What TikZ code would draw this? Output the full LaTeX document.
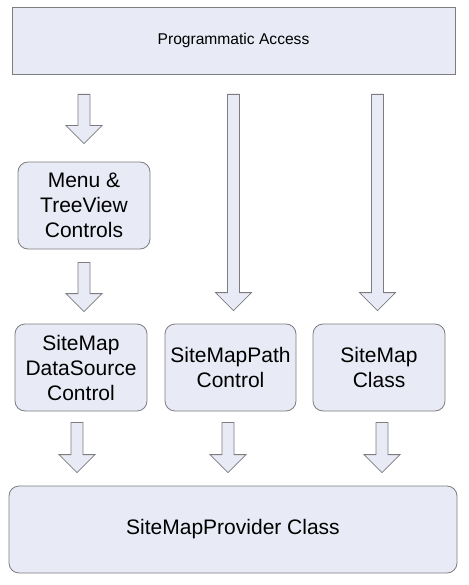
\documentclass[tikz,border=0pt]{standalone}
\usepackage{fontspec}
\setmainfont{Liberation Sans}
\usetikzlibrary{calc, positioning}
\definecolor{boxfill}{RGB}{232, 235, 245}
\definecolor{boxline}{RGB}{125, 125, 128}

% block arrow: start point, tip point, gap below start, gap above tip
\newcommand{\blockarrow}[4]{%
  \draw[arrowbox] let \p1=(#1), \p2=(#2) in
    (\x1-6pt,\y1-#3pt) -- (\x1+6pt,\y1-#3pt) -- (\x1+6pt,\y2+#4pt+18pt)
    -- (\x1+18pt,\y2+#4pt+18pt) -- (\x1,\y2+#4pt) -- (\x1-18pt,\y2+#4pt+18pt)
    -- (\x1-6pt,\y2+#4pt+18pt) -- cycle;}

\tikzset{
  layer/.style={draw=boxline, fill=boxfill, line width=0.8pt, align=center,
    inner sep=0pt, font=\fontsize{21}{25}\selectfont},
  part/.style={layer, rounded corners=10pt, minimum width=132pt, minimum height=87pt},
  arrowbox/.style={draw=boxline, fill=boxfill, line width=0.8pt, line join=miter}
}

\begin{document}
\begin{tikzpicture}[x=1pt, y=-1pt]
  \useasboundingbox (0,0) rectangle (468,585);

  \node[layer, minimum width=443pt, minimum height=67pt,
    font=\fontsize{15.6}{18}\selectfont] (access) at (233.5, 40.5) {Programmatic Access};

  \node[part] (menu) at (84, 205.5) {Menu \&\\TreeView\\Controls};
  \node[part] (dsrc) at (81, 367.5) {SiteMap\\DataSource\\Control};
  \node[part, minimum width=131pt] (path) at (230.5, 367.5) {SiteMapPath\\Control};
  \node[part] (smclass) at (379, 367.5) {SiteMap\\Class};

  \node[part, minimum width=448pt] (provider) at (233, 529.5) {SiteMapProvider Class};

  % arrows from the top
  \blockarrow{access.south -| menu.north}{menu.north}{20}{18}
  \blockarrow{menu.south}{dsrc.north}{13}{12}
  \blockarrow{$(access.south -| path.north)+(3,0)$}{path.north}{20}{13}
  \blockarrow{$(access.south -| smclass.north)+(-1.5,0)$}{smclass.north}{20}{13}

  % arrows to the provider
  \blockarrow{$(dsrc.south)+(-4,0)$}{provider.north}{11}{13}
  \blockarrow{$(path.south)+(-2.5,0)$}{provider.north}{11}{13}
  \blockarrow{$(smclass.south)+(3,0)$}{provider.north}{11}{13}
\end{tikzpicture}
\end{document}
